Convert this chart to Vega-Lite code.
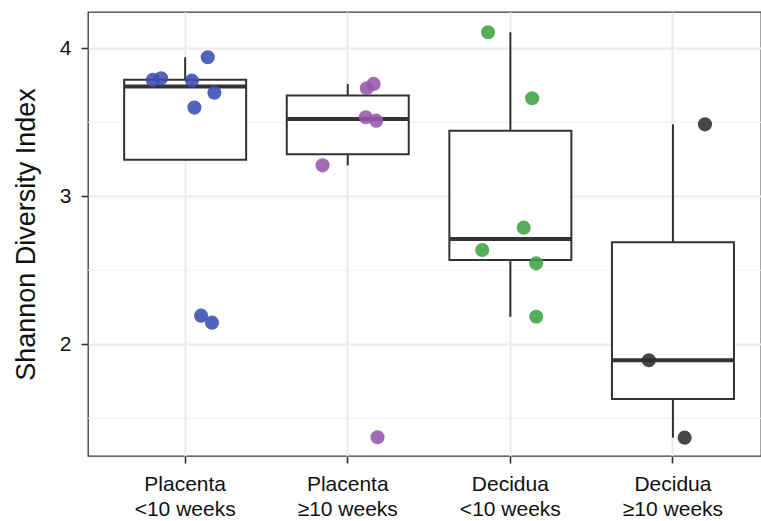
{
  "$schema": "https://vega.github.io/schema/vega-lite/v6.json",
  "width": 673,
  "height": 444,
  "autosize": {"type": "none"},
  "padding": {"left": 88, "top": 12, "right": 0, "bottom": 65},
  "background": "white",
  "config": {
    "font": "Liberation Sans",
    "view": {"stroke": "#3a3a3a", "strokeWidth": 1.3, "fill": "white"},
    "axis": {
      "labelFont": "Liberation Sans",
      "titleFont": "Liberation Sans",
      "labelColor": "#111111",
      "titleColor": "#111111",
      "tickColor": "#333333",
      "tickWidth": 1.6,
      "tickSize": 7,
      "domain": false,
      "gridColor": "#ebebeb",
      "gridWidth": 2
    }
  },
  "datasets": {
    "points": [
      {"group": "Placenta <10 weeks", "jitter": -0.199, "shannon": 3.786},
      {"group": "Placenta <10 weeks", "jitter": -0.148, "shannon": 3.797},
      {"group": "Placenta <10 weeks", "jitter": 0.042, "shannon": 3.781},
      {"group": "Placenta <10 weeks", "jitter": 0.139, "shannon": 3.939},
      {"group": "Placenta <10 weeks", "jitter": 0.180, "shannon": 3.700},
      {"group": "Placenta <10 weeks", "jitter": 0.057, "shannon": 3.599},
      {"group": "Placenta <10 weeks", "jitter": 0.098, "shannon": 2.193},
      {"group": "Placenta <10 weeks", "jitter": 0.165, "shannon": 2.146},
      {"group": "Placenta ≥10 weeks", "jitter": 0.117, "shannon": 3.730},
      {"group": "Placenta ≥10 weeks", "jitter": 0.159, "shannon": 3.759},
      {"group": "Placenta ≥10 weeks", "jitter": 0.111, "shannon": 3.534},
      {"group": "Placenta ≥10 weeks", "jitter": 0.175, "shannon": 3.511},
      {"group": "Placenta ≥10 weeks", "jitter": -0.155, "shannon": 3.209},
      {"group": "Placenta ≥10 weeks", "jitter": 0.183, "shannon": 1.372},
      {"group": "Decidua <10 weeks", "jitter": -0.137, "shannon": 4.108},
      {"group": "Decidua <10 weeks", "jitter": 0.134, "shannon": 3.662},
      {"group": "Decidua <10 weeks", "jitter": 0.082, "shannon": 2.788},
      {"group": "Decidua <10 weeks", "jitter": -0.173, "shannon": 2.637},
      {"group": "Decidua <10 weeks", "jitter": 0.159, "shannon": 2.547},
      {"group": "Decidua <10 weeks", "jitter": 0.159, "shannon": 2.186},
      {"group": "Decidua ≥10 weeks", "jitter": 0.197, "shannon": 3.486},
      {"group": "Decidua ≥10 weeks", "jitter": -0.148, "shannon": 1.892},
      {"group": "Decidua ≥10 weeks", "jitter": 0.072, "shannon": 1.369}
    ],
    "boxes": [
      {"group": "Placenta <10 weeks", "lower": 3.599, "q1": 3.247, "median": 3.741, "q3": 3.787, "upper": 3.939},
      {"group": "Placenta ≥10 weeks", "lower": 3.209, "q1": 3.284, "median": 3.522, "q3": 3.681, "upper": 3.759},
      {"group": "Decidua <10 weeks", "lower": 2.186, "q1": 2.570, "median": 2.712, "q3": 3.443, "upper": 4.108},
      {"group": "Decidua ≥10 weeks", "lower": 1.369, "q1": 1.630, "median": 1.892, "q3": 2.689, "upper": 3.486}
    ],
    "minorGrid": [{"v": 1.5}, {"v": 2.5}, {"v": 3.5}]
  },
  "resolve": {"scale": {"x": "independent"}, "axis": {"x": "independent"}},
  "layer": [
    {
      "layer": [
        {
          "data": {"name": "minorGrid"},
          "mark": {"type": "rule", "color": "#f0f0f0", "strokeWidth": 1.2},
          "encoding": {
            "y": {"field": "v", "type": "quantitative", "scale": {"domain": [1.245, 4.245], "nice": false, "zero": false}, "axis": {"values": [2, 3, 4], "format": ".0f", "title": "Shannon Diversity Index", "titleFontSize": 27, "titleFontWeight": "normal", "labelFontSize": 21, "labelPadding": 10, "titlePadding": 19, "grid": true}}
          }
        },
        {
          "data": {"name": "boxes"},
          "mark": {"type": "rule", "color": "#333333", "strokeWidth": 2},
          "encoding": {
            "x": {"field": "group", "type": "nominal", "sort": ["Placenta <10 weeks", "Placenta ≥10 weeks", "Decidua <10 weeks", "Decidua ≥10 weeks"], "scale": {"type": "band", "paddingInner": 0.25, "paddingOuter": 0.1945, "align": 0.572},
              "axis": {"title": null, "bandPosition": 0.5, "grid": true, "labelAngle": 0, "labelFontSize": 21, "labelPadding": 10, "labelLineHeight": 25,
                "labelExpr": "[slice(datum.label, 0, indexof(datum.label, ' ')), slice(datum.label, indexof(datum.label, ' ') + 1)]"}},
            "y": {"field": "q3", "type": "quantitative"},
            "y2": {"field": "upper"}
          }
        },
        {
          "data": {"name": "boxes"},
          "mark": {"type": "rule", "color": "#333333", "strokeWidth": 2},
          "encoding": {
            "x": {"field": "group", "type": "nominal", "sort": ["Placenta <10 weeks", "Placenta ≥10 weeks", "Decidua <10 weeks", "Decidua ≥10 weeks"]},
            "y": {"field": "lower", "type": "quantitative"},
            "y2": {"field": "q1"}
          }
        },
        {
          "data": {"name": "boxes"},
          "mark": {"type": "bar", "width": 122, "fill": "white", "stroke": "#333333", "strokeWidth": 2},
          "encoding": {
            "x": {"field": "group", "type": "nominal", "sort": ["Placenta <10 weeks", "Placenta ≥10 weeks", "Decidua <10 weeks", "Decidua ≥10 weeks"]},
            "y": {"field": "q1", "type": "quantitative"},
            "y2": {"field": "q3"}
          }
        },
        {
          "data": {"name": "boxes"},
          "mark": {"type": "bar", "width": 122, "fill": null, "fillOpacity": 0, "stroke": "#333333", "strokeWidth": 4},
          "encoding": {
            "x": {"field": "group", "type": "nominal", "sort": ["Placenta <10 weeks", "Placenta ≥10 weeks", "Decidua <10 weeks", "Decidua ≥10 weeks"]},
            "y": {"field": "median", "type": "quantitative"},
            "y2": {"field": "median"}
          }
        }
      ]
    },
    {
      "data": {"name": "points"},
      "mark": {"type": "point", "filled": true, "size": 200, "opacity": 0.88, "strokeWidth": 0},
      "encoding": {
        "x": {"field": "group", "type": "nominal", "sort": ["Placenta <10 weeks", "Placenta ≥10 weeks", "Decidua <10 weeks", "Decidua ≥10 weeks"], "scale": {"type": "band", "paddingInner": 0.25, "paddingOuter": 0.1945, "align": 0.572}, "axis": null},
        "xOffset": {"field": "jitter", "type": "quantitative", "scale": {"domain": [-0.375, 0.375]}},
        "y": {"field": "shannon", "type": "quantitative"},
        "color": {"field": "group", "type": "nominal", "legend": null,
          "scale": {"domain": ["Placenta <10 weeks", "Placenta ≥10 weeks", "Decidua <10 weeks", "Decidua ≥10 weeks"], "range": ["#3b4db3", "#9358ad", "#3ea443", "#2e2e2e"]}}
      }
    }
  ]
}
